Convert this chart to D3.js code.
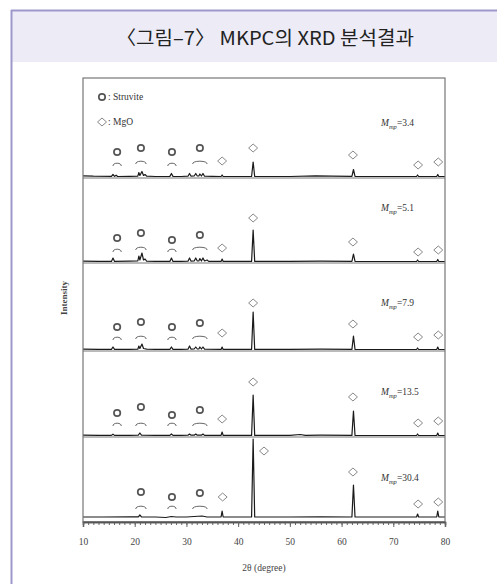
<!DOCTYPE html>
<html><head><meta charset="utf-8">
<script src="https://cdn.jsdelivr.net/npm/d3@7/dist/d3.min.js"></script>
<style>body{margin:0;background:#fff;}svg{display:block;}</style>
</head><body>
<svg id="c" width="497" height="584"></svg>
<script>
// ---------- data ----------
const titleText = "〈그림–7〉 MKPC의 XRD 분석결과";
const xTicks = [10, 20, 30, 40, 50, 60, 70, 80];
const ratioLabels = ["3.4", "5.1", "7.9", "13.5", "30.4"];

// XRD traces: [2θ (degree), intensity (a.u.)]
const trace34 = [[10,2.2],[12,1.8],[15.5,1.6],[15.8,3.5],[16.1,1.6],[16.4,2.8],[16.7,1.5],[19,1.6],[20.6,1.8],[20.8,5.5],[21.0,2.5],[21.4,6.5],[21.7,2.5],[22.0,3.5],[22.3,1.8],[24,1.5],[26.8,1.6],[27.1,4.5],[27.4,1.6],[29,1.5],[30.3,1.8],[30.6,4.5],[30.9,1.8],[31.5,2],[31.8,4.5],[32.1,2],[32.4,2],[32.6,4],[32.9,2],[33.2,4.5],[33.5,1.8],[35,1.6],[36.7,1.5],[36.9,3],[37.1,1.5],[42.6,1.5],[42.9,16],[43.2,1.5],[50,1.5],[55,2.2],[58,1.8],[62.0,1.6],[62.3,8.5],[62.6,1.6],[66,1.5],[74.5,1.5],[74.7,3],[74.9,1.5],[78.4,1.5],[78.6,3.5],[78.8,1.5],[80,1.5]];
const trace51 = [[10,1.8],[13,1.6],[15.5,1.6],[15.8,5],[16.1,1.6],[19,1.8],[20.6,2],[20.8,7],[21.0,3],[21.4,10],[21.7,3],[22.0,4],[22.3,1.8],[24,1.6],[26.8,1.6],[27.1,5],[27.4,1.6],[29,1.6],[30.3,1.8],[30.6,5],[30.9,1.8],[31.5,2],[31.8,5],[32.1,2],[32.4,2],[32.6,4.5],[32.9,2],[33.2,5],[33.5,2],[34,3],[34.3,1.6],[36.7,1.6],[36.9,4],[37.1,1.6],[42.6,1.6],[42.9,33],[43.2,1.6],[50,1.6],[56,1.8],[62.0,1.6],[62.3,9],[62.6,1.6],[66,1.5],[74.5,1.5],[74.7,3],[74.9,1.5],[78.4,1.5],[78.6,3.5],[78.8,1.5],[80,1.5]];
const trace79 = [[10,1.8],[13,1.6],[15.5,1.6],[15.8,4],[16.1,1.6],[19,1.6],[20.6,1.8],[20.8,5],[21.0,2.5],[21.4,7],[21.7,2.5],[22.3,1.8],[24,1.6],[26.8,1.6],[27.1,4],[27.4,1.6],[29,1.6],[30.3,1.8],[30.6,5],[30.9,1.8],[31.5,2],[31.8,4],[32.1,2],[32.4,2],[32.6,4],[32.9,2],[33.2,4],[33.5,1.8],[36.7,1.6],[36.9,4],[37.1,1.6],[42.6,1.6],[42.9,39],[43.2,1.6],[50,1.6],[56,1.8],[62.0,1.6],[62.3,15],[62.6,1.6],[66,1.5],[74.5,1.5],[74.7,3],[74.9,1.5],[78.4,1.5],[78.6,4],[78.8,1.5],[80,1.5]];
const trace135 = [[10,1.8],[13,1.6],[15.5,1.6],[15.8,2.8],[16.1,1.6],[19,1.6],[20.7,1.8],[21.0,4],[21.3,1.8],[24,1.6],[26.8,1.6],[27.1,3],[27.4,1.6],[29,1.6],[30.3,1.8],[30.6,3],[30.9,1.8],[31.5,1.8],[31.8,3],[32.1,1.8],[32.9,1.8],[33.2,3],[33.5,1.6],[36.7,1.6],[36.9,5],[37.1,1.6],[42.6,1.6],[42.9,42],[43.2,1.6],[50,1.6],[52,2.5],[53,1.6],[56,1.8],[62.0,1.6],[62.3,26],[62.6,1.6],[66,1.5],[74.5,1.5],[74.7,3],[74.9,1.5],[78.4,1.5],[78.6,4],[78.8,1.5],[80,1.5]];
const trace304 = [[10,5],[14,5],[19,5.2],[20.7,5.2],[21.0,7],[21.3,5.2],[24,5],[26,4.5],[27.1,5.5],[28,5],[30,5],[33,6],[34,5],[36.7,5],[36.9,11],[37.1,5],[42.6,5],[42.9,83],[43.2,5],[50,5],[56,5.2],[62.0,5],[62.3,37],[62.6,5],[66,5],[74.5,5],[74.7,8],[74.9,5],[78.4,5],[78.6,11],[78.8,5],[80,5]];
const traces = [trace34, trace51, trace79, trace135, trace304];

// phase marker positions (2θ) and heights (a.u.) per panel
const struvitePos = [16.6, 21.2, 27.2, 32.6];
const struviteSpan = [1.6, 2.0, 1.6, 2.8];
const struviteY = [[26,30,26,30],[25,30,23,28],[24,29,24,28],[24,30,22,27],[null,30,25,29]];
const bracketY = [[14,16,14,16],[13,15,13,15],[13,14,13,14],[13,13,13,13],[null,15,15,15]];
const mgoPos = [[36.9,42.9,62.2,74.8,78.7],[36.9,42.9,62.2,74.8,78.7],[36.9,42.9,62.2,74.8,78.7],[36.9,42.9,62.2,74.8,78.7],[37.0,45.0,62.2,74.8,78.7]];
const mgoY = [[17,30,23,13,16],[15,45,21,11,13],[18,48,27,14,16],[18,55,40,14,16],[25,71,50,18,20]];
const legendItems = ["Struvite", "MgO"];

// ---------- layout ----------
const svg = d3.select("#c");
const X0 = 83, X1 = 445;
const panelEdges = [78, 178, 263, 351, 437, 522];
const x = d3.scaleLinear().domain([10, 80]).range([X0, X1]);
const serif = "'Liberation Serif','DejaVu Serif',serif";

// outer frame + header
svg.append("rect").attr("x", 12).attr("y", 11).attr("width", 490).attr("height", 51).attr("fill", "#ecebf6");
svg.append("line").attr("x1", 11).attr("x2", 497).attr("y1", 10.5).attr("y2", 10.5).attr("stroke", "#9d98cc").attr("stroke-width", 2);
svg.append("line").attr("x1", 11.5).attr("x2", 11.5).attr("y1", 10).attr("y2", 584).attr("stroke", "#9d98cc").attr("stroke-width", 2);
svg.append("text").attr("x", 116).attr("y", 45).attr("text-anchor", "start")
  .attr("textLength", 298).attr("lengthAdjust", "spacingAndGlyphs")
  .attr("font-family", "'Noto Sans CJK KR','Noto Sans',sans-serif").attr("font-size", 19)
  .attr("fill", "#222").text(titleText);

const g = svg.append("g");
const frameColor = "#777";

traces.forEach((tr, i) => {
  const top = panelEdges[i], bot = panelEdges[i + 1];
  const y = d3.scaleLinear().domain([0, bot - top]).range([bot, top]);
  const line = d3.line().x(d => x(d[0])).y(d => y(d[1]));
  g.append("path").datum(tr).attr("d", line).attr("fill", "none")
    .attr("stroke", "#1a1a1a").attr("stroke-width", 1.2).attr("stroke-linejoin", "round");

  // struvite rings + brackets
  struvitePos.forEach((p, j) => {
    const sy = struviteY[i][j];
    if (sy === null) return;
    g.append("circle").attr("cx", x(p)).attr("cy", y(sy)).attr("r", 3.2)
      .attr("fill", "none").attr("stroke", "#555").attr("stroke-width", 1.7);
    const by = y(bracketY[i][j]);
    const xa = x(p - struviteSpan[j] / 2), xb = x(p + struviteSpan[j] / 2);
    g.append("path").attr("d", `M${xa},${by + 2} Q${xa},${by - 0.6} ${(xa + xb) / 2},${by - 0.8} Q${xb},${by - 0.6} ${xb},${by + 2}`)
      .attr("fill", "none").attr("stroke", "#666").attr("stroke-width", 1);
  });
  // MgO diamonds
  mgoPos[i].forEach((p, j) => {
    const cx = x(p), cy = y(mgoY[i][j]);
    g.append("path").attr("d", `M${cx},${cy - 4} L${cx + 4.5},${cy} L${cx},${cy + 4} L${cx - 4.5},${cy} Z`)
      .attr("fill", "#fff").attr("stroke", "#888").attr("stroke-width", 1);
  });
  // ratio label
  const lt = g.append("text").attr("x", 381).attr("y", [126, 211, 306, 395, 481][i])
    .attr("font-family", serif).attr("font-size", 9.5).attr("fill", "#333");
  lt.append("tspan").attr("font-style", "italic").text("M");
  lt.append("tspan").attr("font-style", "italic").attr("font-size", 6.5).attr("dy", 2.5).text("mp");
  lt.append("tspan").attr("dy", -2.5).text("=" + ratioLabels[i]);

  // panel separator
  g.append("line").attr("x1", X0).attr("x2", X1).attr("y1", bot).attr("y2", bot)
    .attr("stroke", frameColor).attr("stroke-width", 1);
});

// frame
g.append("rect").attr("x", X0).attr("y", panelEdges[0]).attr("width", X1 - X0)
  .attr("height", panelEdges[5] - panelEdges[0]).attr("fill", "none").attr("stroke", frameColor).attr("stroke-width", 1.2);

// legend
const lg = g.append("g");
lg.append("circle").attr("cx", 102).attr("cy", 97).attr("r", 3.2).attr("fill", "none").attr("stroke", "#555").attr("stroke-width", 1.7);
lg.append("path").attr("d", "M102,118 L106.5,122 L102,126 L97.5,122 Z").attr("fill", "#fff").attr("stroke", "#888").attr("stroke-width", 1);
legendItems.forEach((t, k) => {
  lg.append("text").attr("x", 108).attr("y", [100, 125][k]).attr("font-family", serif)
    .attr("font-size", 9.5).attr("fill", "#333").text(": " + t);
});

// x axis
const minor = d3.axisBottom(x).tickValues(d3.range(10, 81, 1)).tickSize(3).tickFormat("");
const major = d3.axisBottom(x).tickValues(xTicks).tickSize(5).tickPadding(11).tickFormat(d3.format("d"));
const ax1 = g.append("g").attr("transform", `translate(0,${panelEdges[5]})`).call(minor);
const ax2 = g.append("g").attr("transform", `translate(0,${panelEdges[5]})`).call(major);
[ax1, ax2].forEach(a => {
  a.select(".domain").attr("stroke", "#555").attr("stroke-width", 1.5);
  a.selectAll(".tick line").attr("stroke", "#666");
});
ax2.selectAll("text").attr("font-family", serif).attr("font-size", 9.5).attr("fill", "#444");

// axis titles
g.append("text").attr("x", 264).attr("y", 571).attr("text-anchor", "middle").attr("font-family", serif)
  .attr("font-size", 9.5).attr("fill", "#444").text("2θ (degree)");
g.append("text").attr("transform", "translate(67,298) rotate(-90)").attr("text-anchor", "middle")
  .attr("font-family", serif).attr("font-size", 9).attr("font-weight", "bold").attr("fill", "#444").text("Intensity");
</script>
</body></html>
